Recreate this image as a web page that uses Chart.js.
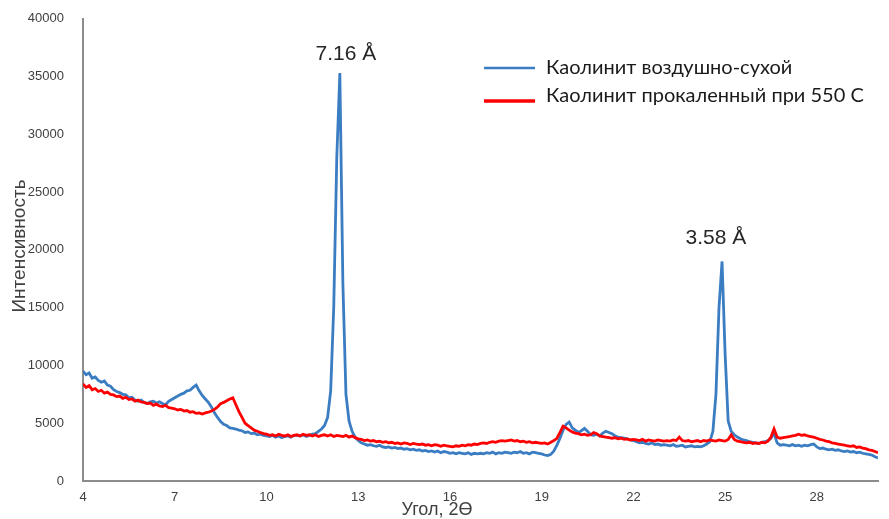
<!DOCTYPE html>
<html>
<head>
<meta charset="utf-8">
<script src="https://cdn.jsdelivr.net/npm/chart.js@4.4.1/dist/chart.umd.min.js"></script>
<style>
  html, body { margin: 0; padding: 0; background: #fff; }
  #wrap { width: 889px; height: 519px; }
</style>
</head>
<body>
<div id="wrap"><canvas id="xrdChart"></canvas></div>
<script>
// 2-theta grid of the scan, 4.0 .. 30.0 with 0.1 step
const angleStart = 4.0;
const angleStep = 0.1;

const airDry = [
  9500, 9200, 9350, 8900, 9000, 8700, 8550, 8650, 8300, 8200,
  7900, 7750, 7650, 7500, 7450, 7200, 7250, 7000, 6900, 7000,
  6800, 6700, 6850, 6900, 6750, 6850, 6700, 6600, 6900, 7050,
  7200, 7350, 7500, 7600, 7800, 7850, 8100, 8300, 7800, 7400,
  7100, 6800, 6400, 5900, 5500, 5150, 4900, 4800, 4600, 4550,
  4500, 4400, 4350, 4200, 4250, 4100, 4150, 4000, 4050, 3950,
  3900, 3850, 3950, 3800, 3900, 3750, 3850, 3900, 3800, 3950,
  3950, 3900, 4000, 3850, 3950, 4050, 4100, 4300, 4500, 4800,
  5500, 7800, 15000, 28000, 35300, 17000, 7500, 5200, 4300, 3800,
  3500, 3300, 3200, 3100, 3150, 3050, 3000, 3100, 2950, 2900,
  2950, 2850, 2900, 2800, 2850, 2750, 2800, 2700, 2750, 2650,
  2700, 2600, 2650, 2550, 2600, 2500, 2600, 2450, 2550, 2500,
  2400, 2450, 2350, 2450, 2400, 2350, 2450, 2300, 2400, 2350,
  2400, 2350, 2450, 2400, 2500, 2350, 2450, 2400, 2500, 2450,
  2400, 2500, 2450, 2550, 2400, 2450, 2350, 2500, 2450, 2400,
  2350, 2250, 2200, 2300, 2600, 3100, 3700, 4400, 4900, 5100,
  4600, 4400, 4200, 4350, 4550, 4300, 4000, 3950, 4050, 3900,
  4150, 4300, 4200, 4100, 3900, 3800, 3750, 3700, 3650, 3550,
  3500, 3400, 3300, 3350, 3250, 3200, 3300, 3150, 3200, 3100,
  3150, 3100, 3050, 3150, 3000, 3050, 3100, 2950, 3000, 3050,
  2950, 3000, 2950, 3050, 3200, 3400, 4300, 7500, 15000, 19000,
  11000, 5200, 4300, 4000, 3800, 3650, 3550, 3500, 3400, 3350,
  3300, 3250, 3350, 3400, 3500, 3700, 4150, 3300, 3100, 3150,
  3100, 3050, 3150, 3050, 3100, 3000, 3100, 3050, 3150, 3200,
  2950, 2800, 2850, 2750, 2700, 2750, 2650, 2700, 2600, 2550,
  2600, 2500, 2550, 2450, 2500, 2400, 2350, 2300, 2250, 2100,
  2000
];

const calcined = [
  8400, 8100, 8250, 7900, 8000, 7750, 7850, 7600, 7700, 7500,
  7450, 7300, 7350, 7150, 7250, 7050, 7100, 6900, 7000, 6850,
  6800, 6700, 6750, 6550, 6650, 6500, 6450, 6550, 6350, 6300,
  6250, 6150, 6200, 6050, 6100, 5950, 6000, 5850, 5900, 5800,
  5900, 5950, 6050, 6200, 6400, 6700, 6800, 6950, 7100, 7200,
  6600, 6000, 5500, 5000, 4800, 4600, 4400, 4300, 4200, 4100,
  4050, 3950, 4000, 3900, 4050, 3950, 3900, 4000, 3850, 3950,
  4000, 3900, 4050, 3950, 4000, 3900, 4000, 3850, 3950, 4000,
  3900, 4000, 3850, 3950, 3900, 3850, 3950, 3800, 3900, 3750,
  3650, 3600, 3500, 3550, 3450, 3500, 3400, 3450, 3350, 3400,
  3300, 3350, 3250, 3300, 3200, 3300, 3250, 3150, 3250, 3200,
  3150, 3200, 3100, 3150, 3050, 3150, 3100, 3000, 3100, 3050,
  3000, 2950, 3050, 3000, 3100, 3050, 3150, 3100, 3200, 3150,
  3250, 3300, 3250, 3350, 3400, 3350, 3450, 3500, 3450, 3500,
  3550, 3450, 3500, 3400, 3450, 3350, 3400, 3300, 3350, 3300,
  3250, 3300, 3200, 3350, 3500, 3700, 4200, 4750, 4600, 4400,
  4250, 4150, 4100, 4000, 4050, 3950, 4000, 4200, 4100, 3900,
  3850, 3800, 3750, 3700, 3750, 3650, 3700, 3600, 3650, 3550,
  3600, 3550, 3500, 3600, 3450, 3550, 3500, 3450, 3550, 3500,
  3450, 3500, 3450, 3550, 3500, 3800, 3500, 3450, 3500, 3400,
  3450, 3500, 3400, 3500, 3450, 3550, 3500, 3450, 3550, 3500,
  3450, 3600, 4000, 3600, 3450, 3400, 3350, 3300, 3350, 3250,
  3300, 3250, 3350, 3300, 3450, 3800, 4500, 3800, 3700, 3750,
  3800, 3850, 3900, 3950, 4050, 3950, 4000, 3900, 3850, 3800,
  3700, 3600, 3550, 3450, 3400, 3300, 3250, 3200, 3150, 3100,
  3050, 3000, 3050, 2900, 2950, 2850, 2800, 2700, 2650, 2550,
  2450
];

const seriesNames = ['Каолинит воздушно-сухой', 'Каолинит прокаленный при 550 С'];
const xTicks = [4, 7, 10, 13, 16, 19, 22, 25, 28];
const yTicks = [0, 5000, 10000, 15000, 20000, 25000, 30000, 35000, 40000];

// d-spacing labels over the two kaolinite reflections
const peakLabels = ['7.16 Å', '3.58 Å'];
const peakLabelAngles = [12.6, 24.7];
const peakLabelLevels = [36400, 20500];

const toPoints = vals => vals.map((v, i) => ({ x: (angleStart * 10 + i) / 10, y: v }));

const textFont = "'Liberation Sans', Arial, sans-serif";

const extrasPlugin = {
  id: 'extras',
  afterDraw(chart) {
    const c = chart.ctx;
    const xs = chart.scales.x, ys = chart.scales.y;
    c.save();

    // axis titles
    c.fillStyle = '#404040';
    c.textAlign = 'center';
    c.textBaseline = 'middle';
    c.font = '18px ' + textFont;
    c.fillText('Угол, 2Ө', 437, 510);
    c.save();
    c.translate(20, 246);
    c.rotate(-Math.PI / 2);
    c.font = '19px ' + textFont;
    c.fillText('Интенсивность', 0, 0);
    c.restore();

    // peak labels
    c.fillStyle = '#262626';
    c.font = '21px ' + textFont;
    c.textBaseline = 'alphabetic';
    peakLabels.forEach((t, i) => {
      c.fillText(t, xs.getPixelForValue(peakLabelAngles[i]), ys.getPixelForValue(peakLabelLevels[i]));
    });

    // legend
    c.textAlign = 'left';
    c.textBaseline = 'middle';
    c.font = '20px Lato, sans-serif';
    const rows = [68, 96];
    chart.data.datasets.forEach((ds, i) => {
      c.strokeStyle = ds.borderColor;
      c.lineWidth = i === 0 ? 2.5 : 3.5;
      c.beginPath();
      c.moveTo(484, rows[i] + (i === 0 ? 0 : 5));
      c.lineTo(535, rows[i] + (i === 0 ? 0 : 5));
      c.stroke();
      c.fillStyle = '#1a1a1a';
      c.fillText(ds.label, 546, rows[i]);
    });
    c.restore();
  }
};

new Chart(document.getElementById('xrdChart'), {
  type: 'line',
  data: {
    datasets: [{
      label: seriesNames[0],
      data: toPoints(airDry),
      borderColor: '#3a7dc2',
      borderWidth: 2.8,
      pointRadius: 0,
      tension: 0,
      order: 1
    }, {
      label: seriesNames[1],
      data: toPoints(calcined),
      borderColor: '#ff0000',
      borderWidth: 2.8,
      pointRadius: 0,
      tension: 0,
      order: 0
    }]
  },
  options: {
    responsive: true,
    maintainAspectRatio: false,
    animation: false,
    layout: { padding: { top: 13, right: 11, left: 0, bottom: 0 } },
    plugins: {
      legend: { display: false },
      tooltip: { enabled: false }
    },
    scales: {
      x: {
        type: 'linear',
        min: 4,
        max: 30,
        afterBuildTicks: axis => { axis.ticks = xTicks.map(v => ({ value: v })); },
        afterFit: axis => { axis.height = 38; },
        grid: { display: false, drawTicks: false },
        border: { display: true, color: '#8c8c8c', width: 2 },
        ticks: {
          padding: 9,
          maxRotation: 0,
          color: '#404040',
          font: { family: textFont, size: 13 }
        }
      },
      y: {
        min: 0,
        max: 40000,
        afterBuildTicks: axis => { axis.ticks = yTicks.map(v => ({ value: v })); },
        afterFit: axis => { axis.width = 83; },
        grid: { display: false },
        border: { display: true, color: '#8c8c8c', width: 2 },
        ticks: {
          padding: 11,
          color: '#404040',
          font: { family: textFont, size: 13 },
          callback: v => String(v)
        }
      }
    }
  },
  plugins: [extrasPlugin]
});
</script>
</body>
</html>
